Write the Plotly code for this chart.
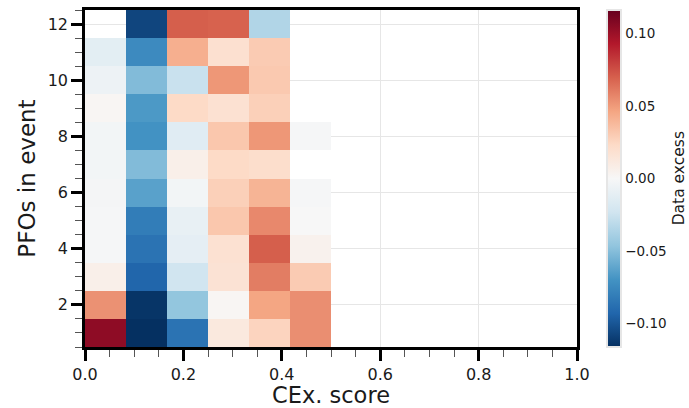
import numpy as np
import plotly.graph_objects as go

nan = np.nan
# x bin edges: 12 equal bins from 0 to 1
x_edges = [i / 12 for i in range(13)]
x_centers = [(x_edges[i] + x_edges[i + 1]) / 2 for i in range(12)]
y_rows = list(range(1, 13))

# Data excess per column (CEx. score bin), listed for rows 1..12 (PFOs in event)
col0 = [0.104, 0.053, 0.007, -0.001, -0.001, -0.002, -0.003, -0.003, 0.002, -0.006, -0.012, nan]
col1 = [-0.116, -0.114, -0.093, -0.086, -0.081, -0.063, -0.051, -0.070, -0.067, -0.051, -0.074, -0.107]
col2 = [-0.086, -0.046, -0.023, -0.011, -0.009, -0.003, 0.007, -0.014, 0.023, -0.026, 0.042, 0.070]
col3 = [0.012, 0.002, 0.017, 0.018, 0.032, 0.028, 0.023, 0.032, 0.018, 0.051, 0.019, 0.069]
col4 = [0.026, 0.046, 0.060, 0.070, 0.056, 0.040, 0.021, 0.051, 0.028, 0.031, 0.030, -0.035]
col5 = [0.054, 0.054, 0.030, 0.005, 0.000, -0.001, nan, -0.001, nan, nan, nan, nan]
empty_col = [nan] * 12

columns = [col0, col1, col2, col3, col4, col5] + [empty_col] * 6
z = np.array(columns).T  # rows = y, cols = x

zlim = 0.116
x_ticks = [0.0, 0.2, 0.4, 0.6, 0.8, 1.0]
y_ticks = [2, 4, 6, 8, 10, 12]
cb_ticks = [-0.10, -0.05, 0.0, 0.05, 0.10]

rdbu_r = [
    [0.0, "#053061"], [0.1, "#2166ac"], [0.2, "#4393c3"], [0.3, "#92c5de"],
    [0.4, "#d1e5f0"], [0.5, "#f7f7f7"], [0.6, "#fddbc7"], [0.7, "#f4a582"],
    [0.8, "#d6604d"], [0.9, "#b2182b"], [1.0, "#67001f"],
]

font_family = "DejaVu Sans"
txt = "#1a1a1a"

fig = go.Figure(
    go.Heatmap(
        x=x_centers, y=y_rows, z=z,
        colorscale=rdbu_r, zmin=-zlim, zmax=zlim,
        hoverongaps=False,
        colorbar=dict(
            x=1.061, xanchor="left", xpad=0,
            y=0.5, yanchor="middle", len=1.0, ypad=0,
            thickness=14,
            outlinewidth=2, outlinecolor="#e6e6e6",
            tickvals=cb_ticks, tickformat=".2f",
            ticks="", tickfont=dict(size=13.5, family=font_family, color=txt),
        ),
    )
)

axis_common = dict(
    showline=True, linecolor="black", linewidth=2.5, mirror=True,
    ticks="outside", ticklen=11, tickwidth=3, tickcolor="black",
    showgrid=True, gridcolor="#e6e6e6", gridwidth=1,
    zeroline=False, automargin=False,
    tickfont=dict(size=16, family=font_family, color=txt),
)

fig.update_xaxes(
    **axis_common,
    range=[0, 1], tickvals=x_ticks, tickformat=".1f",
    minor=dict(dtick=0.05, tick0=0, ticks="outside", ticklen=7, tickwidth=1,
               tickcolor="#555555", showgrid=False),
    title=dict(text="CEx. score", font=dict(size=22.5, family=font_family, color=txt),
               standoff=4),
)
fig.update_yaxes(
    **axis_common,
    range=[0.5, 12.5], tickvals=y_ticks,
    minor=dict(dtick=0.5, tick0=0, ticks="outside", ticklen=7, tickwidth=1,
               tickcolor="#555555", showgrid=False),
    title=dict(text="PFOs in event", font=dict(size=23, family=font_family, color=txt),
               standoff=6),
)

# colorbar label placed as a rotated annotation to the right of the tick labels
fig.add_annotation(
    text="Data excess", textangle=-90, showarrow=False,
    xref="paper", yref="paper", x=1.207, y=0.5,
    xanchor="center", yanchor="middle",
    font=dict(size=15.5, family=font_family, color=txt),
)

fig.update_layout(
    width=689, height=408,
    margin=dict(l=85, r=112, t=10, b=61, autoexpand=False),
    paper_bgcolor="white", plot_bgcolor="white",
    font=dict(family=font_family),
)

# remove the default page margin so the figure fills the window exactly
fig.write_html(
    "out.html",
    config={"displayModeBar": False},
    post_script="document.body.style.margin='0';document.body.style.overflow='hidden';",
)
